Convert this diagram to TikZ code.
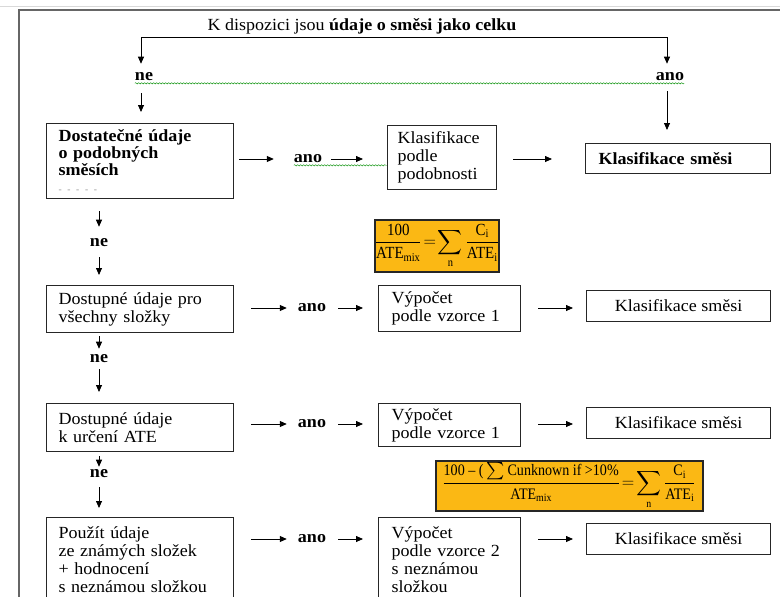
\documentclass[tikz,border=0pt]{standalone}
\usepackage{amsmath}
\usepackage{fontspec}
\setmainfont{Liberation Serif}[FakeStretch=1.06]
\newfontfamily\uzky{Liberation Serif}[FakeStretch=0.88]
\newcommand{\vz}[1]{\text{\uzky #1}}
\usetikzlibrary{arrows.meta,decorations.pathmorphing}
\definecolor{vzorecfill}{HTML}{FBB814}
\tikzset{
	box/.style={draw=black!85, line width=1.1pt, anchor=north west, align=left, inner xsep=12pt, inner ysep=0pt},
	kls/.style={draw=black!85, line width=1.1pt, anchor=north west, minimum width=184, minimum height=31, inner sep=0pt},
	vzorec/.style={draw=black!85, line width=2pt, fill=vzorecfill, inner sep=0pt, font=\fontsize{17}{19}\selectfont},
	lbl/.style={font=\fontsize{17}{18}\selectfont\bfseries, inner sep=0pt},
	arr/.style={-{Triangle[length=7pt,width=6pt]}, line width=0.8pt},
	squig/.style={decorate, decoration={snake, amplitude=0.7pt, segment length=3pt}, draw=green!55!black, line width=0.4pt}
}

\begin{document}
\begin{tikzpicture}[x=1pt,y=-1pt,font=\fontsize{17}{18}\selectfont]
	\clip (0,0) rectangle (780,597);
	\draw[black!15, line width=1pt] (0,6) -- (780,6);
	\draw[black!60, line width=2pt] (19,600) -- (19,10) -- (780,10);

	\node (title) at (362,26) {K dispozici jsou \textbf{údaje o směsi jako celku}};
	\coordinate (tl) at (141,37);
	\coordinate (tr) at (667,37);
	\node[lbl] (ne0) at (144,77) {ne};
	\node[lbl] (ano0) at (670,77) {ano};

	% levy sloupec
	\node[box, font=\fontsize{17}{17}\selectfont\bfseries, minimum width=187, minimum height=75, text width=163pt] (dost1) at (46,123)
		{Dostatečné údaje\\o podobných\\směsích\\{\color{black!40}\fontsize{9}{9}\selectfont - - - - -}};
	\node[lbl] (ne1) at (99,243) {ne};
	\node[box, minimum width=187, minimum height=47, text width=163pt] (dost2) at (46,285)
		{Dostupné údaje pro\\všechny složky};
	\node[lbl] (ne2) at (99,359) {ne};
	\node[box, minimum width=187, minimum height=48, text width=163pt] (dost3) at (46,403)
		{Dostupné údaje\\k určení ATE};
	\node[lbl] (ne3) at (99,474) {ne};
	\node[box, minimum width=187, minimum height=84, text width=163pt] (dost4) at (46,517)
		{Použít údaje\\ze známých složek\\+ hodnocení\\s neznámou složkou};

	% ano
	\node[lbl] (ano1) at (308,159) {ano};
	\node[lbl] (ano2) at (312,308) {ano};
	\node[lbl] (ano3) at (312,424) {ano};
	\node[lbl] (ano4) at (312,539) {ano};

	% prostredni sloupec
	\node[box, inner xsep=10pt, minimum width=109, minimum height=64, text width=89pt] (podob) at (387,125)
		{Klasifikace\\podle\\podobnosti};
	\node[box, inner xsep=13pt, minimum width=142, minimum height=46, text width=116pt] (vyp2) at (378,285)
		{Výpočet\\podle vzorce 1};
	\node[box, inner xsep=13pt, minimum width=142, minimum height=43, text width=116pt] (vyp3) at (378,403)
		{Výpočet\\podle vzorce 1};
	\node[box, inner xsep=13pt, minimum width=142, minimum height=84, text width=116pt] (vyp4) at (378,517)
		{Výpočet\\podle vzorce 2\\s neznámou\\složkou};

	\node[vzorec, minimum width=118, minimum height=52] (vz1) at (437,246)
		{$\thickmuskip=2mu\relax\displaystyle\frac{\vz{100}}{\vz{ATE}_{\vz{mix}}}=\sum_{\vz{n}}\frac{\vz{C}_{\vz{i}}}{\vz{ATE}_{\vz{i}}}$};
	\node[vzorec, font=\fontsize{16}{18}\selectfont, minimum width=267, minimum height=50] (vz2) at (569,486)
		{$\thickmuskip=2mu\relax\displaystyle\frac{\vz{100 – (}\textstyle\sum\vz{Cunknown if >10\%}}{\vz{ATE}_{\vz{mix}}}=\sum_{\vz{n}}\frac{\vz{C}_{\vz{i}}}{\vz{ATE}_{\vz{i}}}$};

	% pravy sloupec
	\node[kls, minimum width=185, minimum height=30, inner xsep=13pt, text width=159pt, align=left, font=\fontsize{17}{18}\selectfont\bfseries] (kls1) at (585,143) {Klasifikace směsi};
	\node[kls] (kls2) at (586,290) {Klasifikace směsi};
	\node[kls] (kls3) at (586,407) {Klasifikace směsi};
	\node[kls] (kls4) at (586,523) {Klasifikace směsi};

	% sipky nahore
	\draw[line width=0.8pt] (tl) -- (tr);
	\draw[arr, shorten >=9pt] (tl) -- (ne0.north -| tl);
	\draw[arr, shorten >=9pt] (tr) -- (ano0.north -| tr);
	\draw[arr, shorten <=12pt, shorten >=11pt] (ne0.south -| tl) -- (dost1.north -| tl);
	\draw[arr, shorten <=10pt, shorten >=13pt] (ano0.south -| tr) -- (kls1.north -| tr);
	\draw[squig] ([yshift=-2pt]ne0.south west) -- ([yshift=-2pt]ano0.south east);

	% sipky dolu
	\draw[arr, shorten <=12pt, shorten >=12pt] (dost1.south -| ne1) -- (ne1.north);
	\draw[arr, shorten <=10pt, shorten >=10pt] (ne1.south) -- (dost2.north -| ne1);
	\draw[arr, shorten <=3pt, shorten >=6pt] (dost2.south -| ne2) -- (ne2.north);
	\draw[arr, shorten <=6pt, shorten >=11pt] (ne2.south) -- (dost3.north -| ne2);
	\draw[arr, shorten <=4pt, shorten >=3pt] (dost3.south -| ne3) -- (ne3.north);
	\draw[arr, shorten <=9pt, shorten >=9pt] (ne3.south) -- (dost4.north -| ne3);

	% sipky doprava
	\draw[arr, shorten <=5pt, shorten >=20pt] (dost1.east |- ano1) -- (ano1.west);
	\draw[arr, shorten <=9pt, shorten >=24pt] (ano1.east) -- (podob.west |- ano1);
	\draw[squig] ([yshift=-2pt]ano1.south west) -- ([yshift=-2pt]ano1.south west -| podob.west);
	\draw[arr, shorten <=16pt, shorten >=33pt] (podob.east |- ano1) -- (kls1.west |- ano1);
	\foreach \r in {2,3,4} {
		\draw[arr, shorten <=17pt, shorten >=11pt] (dost\r.east |- ano\r) -- (ano\r.west);
		\draw[arr, shorten <=12pt, shorten >=15pt] (ano\r.east) -- (vyp\r.west |- ano\r);
		\draw[arr, shorten <=17pt, shorten >=13pt] (vyp\r.east |- ano\r) -- (kls\r.west |- ano\r);
	}
\end{tikzpicture}
\end{document}
